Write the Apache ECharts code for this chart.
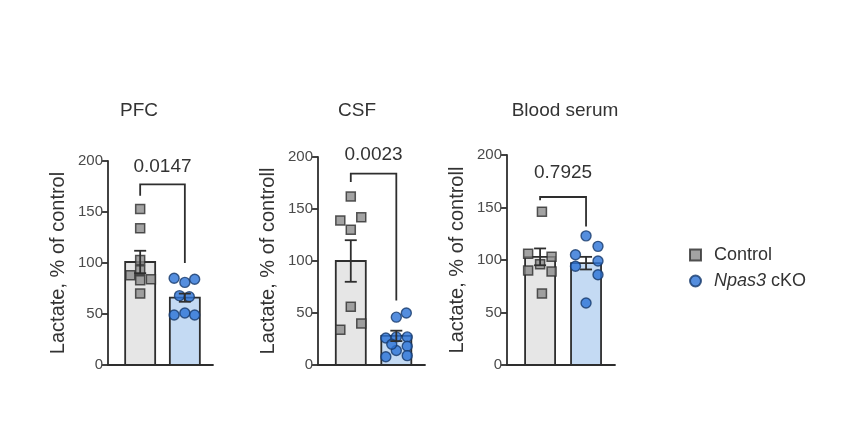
<!DOCTYPE html>
<html>
<head>
<meta charset="utf-8">
<script src="https://cdn.jsdelivr.net/npm/echarts@6/dist/echarts.min.js"></script>
<style>
  html, body { margin: 0; background: #fff; }
  #chart { width: 846px; height: 433px; }
</style>
</head>
<body>
<div id="chart"></div>
<script>
const groups = ['Control', 'Npas3 cKO'];
const panelTitles = ['PFC', 'CSF', 'Blood serum'];
const axisNames = ['Lactate, % of control', 'Lactate, % of controll', 'Lactate, % of controll'];
const yTicks = [0, 50, 100, 150, 200];
const pValues = ['0.0147', '0.0023', '0.7925'];

// group mean and SEM (Control, cKO)
const pfcMean = [101, 66];
const pfcSem = [11, 4];
const csfMean = [100, 28];
const csfSem = [20, 5];
const serumMean = [103, 97];
const serumSem = [8, 6];

// single animals
const pfcControl = [153, 134, 103, 93, 88, 84, 83, 70];
const pfcKO = [85, 81, 84, 68, 67, 49, 51, 49];
const csfControl = [162, 139, 142, 130, 56, 34, 40];
const csfKO = [46, 50, 26, 27, 27, 18, 14, 8, 9, 20];
const serumControl = [146, 106, 103, 96, 90, 89, 68];
const serumKO = [123, 113, 105, 99, 94, 86, 59];

// sideways spread of the dots inside a bar
const pfcControlJit = [0, 0, 0, 0, -0.22, 0.24, 0, 0];
const pfcKOJit = [-0.24, 0, 0.22, -0.12, 0.1, -0.24, 0, 0.22];
const csfControlJit = [0, -0.23, 0.23, 0, 0, -0.23, 0.23];
const csfKOJit = [0, 0.22, -0.23, 0, 0.24, 0.24, 0, -0.23, 0.24, -0.1];
const serumControlJit = [0.04, -0.26, 0.25, 0, -0.26, 0.25, 0.04];
const serumKOJit = [0, 0.26, -0.23, 0.26, -0.23, 0.26, 0];

// significance bracket: left leg end, top, right leg end, label height
const pfcBracket = [166, 177, 100, 194];
const csfBracket = [176, 184, 62, 202];
const serumBracket = [157, 160, 132, 183];

const panels = [
  { mean: pfcMean, sem: pfcSem, ctl: pfcControl, ko: pfcKO, ctlJ: pfcControlJit, koJ: pfcKOJit, br: pfcBracket,
    grid: { left: 108, top: 161, width: 105, height: 204 }, titleX: 139 },
  { mean: csfMean, sem: csfSem, ctl: csfControl, ko: csfKO, ctlJ: csfControlJit, koJ: csfKOJit, br: csfBracket,
    grid: { left: 318, top: 157, width: 107, height: 208 }, titleX: 357 },
  { mean: serumMean, sem: serumSem, ctl: serumControl, ko: serumKO, ctlJ: serumControlJit, koJ: serumKOJit, br: serumBracket,
    grid: { left: 507, top: 155, width: 108, height: 210 }, titleX: 565 }
];

const FONT = 'Liberation Sans, Arial, sans-serif';
const INK = '#2e2e2e';
const LW = 1.8;
const barFill = ['#e6e6e6', '#c4daf3'];

const chart = echarts.init(document.getElementById('chart'));

const grids = [], xAxes = [], yAxes = [], series = [], graphics = [];

panels.forEach((p, i) => {
  grids.push(p.grid);
  xAxes.push({
    type: 'value', gridIndex: i, min: -0.72, max: 1.63,
    axisLine: { show: true, onZero: false, lineStyle: { color: INK, width: LW } },
    axisTick: { show: false }, axisLabel: { show: false }, splitLine: { show: false }
  });
  yAxes.push({
    type: 'value', gridIndex: i, min: yTicks[0], max: yTicks[yTicks.length - 1], interval: 50,
    name: axisNames[i], nameLocation: 'middle', nameGap: 40,
    nameTextStyle: { fontFamily: FONT, fontSize: 20, color: '#333' },
    axisLine: { show: true, onZero: false, lineStyle: { color: INK, width: LW } },
    axisTick: { show: true, length: 6, lineStyle: { color: INK, width: LW } },
    axisLabel: { fontFamily: FONT, fontSize: 15, color: '#4a4a4a', margin: 5 },
    splitLine: { show: false }
  });

  // bars
  series.push({
    type: 'custom', xAxisIndex: i, yAxisIndex: i, z: 1,
    data: p.mean.map((m, g) => [g, m]),
    renderItem: (params, api) => {
      const x = api.value(0);
      const top = api.coord([x, api.value(1)]);
      const base = api.coord([x, 0]);
      return {
        type: 'rect',
        shape: { x: top[0] - 15, y: top[1], width: 30, height: base[1] - top[1] },
        style: { fill: barFill[x], stroke: INK, lineWidth: LW }
      };
    }
  });

  series.push({
    name: groups[0], type: 'scatter', xAxisIndex: i, yAxisIndex: i, z: 3,
    symbol: 'rect', symbolSize: 9,
    itemStyle: { color: '#8c8c8c', borderColor: INK, borderWidth: 1.5 },
    data: p.ctl.map((v, k) => [p.ctlJ[k], v])
  });
  series.push({
    name: groups[1], type: 'scatter', xAxisIndex: i, yAxisIndex: i, z: 3,
    symbol: 'circle', symbolSize: 10,
    itemStyle: { color: '#2a72d6', borderColor: '#173a6b', borderWidth: 1.4 },
    data: p.ko.map((v, k) => [1 + p.koJ[k], v])
  });

  // mean +/- SEM
  series.push({
    type: 'custom', xAxisIndex: i, yAxisIndex: i, z: 4,
    data: p.mean.map((m, g) => [g, m]),
    renderItem: (params, api) => {
      const g = params.dataIndex;
      const x = api.value(0);
      const lo = api.coord([x, p.mean[g] - p.sem[g]]);
      const hi = api.coord([x, p.mean[g] + p.sem[g]]);
      const st = { stroke: INK, lineWidth: LW };
      return {
        type: 'group',
        children: [
          { type: 'line', shape: { x1: lo[0], y1: lo[1], x2: hi[0], y2: hi[1] }, style: st },
          { type: 'line', shape: { x1: hi[0] - 6, y1: hi[1], x2: hi[0] + 6, y2: hi[1] }, style: st },
          { type: 'line', shape: { x1: lo[0] - 6, y1: lo[1], x2: lo[0] + 6, y2: lo[1] }, style: st }
        ]
      };
    }
  });

  // bracket + p value
  series.push({
    type: 'custom', xAxisIndex: i, yAxisIndex: i, z: 5, clip: false,
    data: [[0.5, p.br[1]]],
    renderItem: (params, api) => {
      const br = p.br;
      const a = api.coord([0, br[0]]);
      const b = api.coord([0, br[1]]);
      const c = api.coord([1, br[1]]);
      const d = api.coord([1, br[2]]);
      const t = api.coord([0.5, br[3]]);
      return {
        type: 'group',
        children: [
          { type: 'polyline', shape: { points: [a, b, c, d] }, style: { stroke: INK, lineWidth: LW, fill: null } },
          { type: 'text', x: t[0], y: t[1],
            style: { text: pValues[i], fontFamily: FONT, fontSize: 19, fill: '#333', align: 'center', verticalAlign: 'middle' } }
        ]
      };
    }
  });

  graphics.push({
    type: 'text', x: p.titleX, y: 111,
    style: { text: panelTitles[i], fontFamily: FONT, fontSize: 19, fill: '#333', align: 'center', verticalAlign: 'middle' }
  });
});

const option = {
  animation: false,
  backgroundColor: '#fff',
  grid: grids,
  xAxis: xAxes,
  yAxis: yAxes,
  series: series,
  graphic: graphics,
  legend: {
    data: groups, orient: 'vertical', left: 684, top: 241,
    itemWidth: 11, itemHeight: 11, itemGap: 8,
    selectedMode: false,
    textStyle: {
      fontFamily: FONT, fontSize: 18, color: '#333', padding: [0, 0, 0, 8],
      rich: { i: { fontStyle: 'italic', fontFamily: FONT, fontSize: 18, color: '#333' } }
    },
    formatter: name => name === 'Npas3 cKO' ? '{i|Npas3} cKO' : name
  }
};

option && chart.setOption(option);
</script>
</body>
</html>
